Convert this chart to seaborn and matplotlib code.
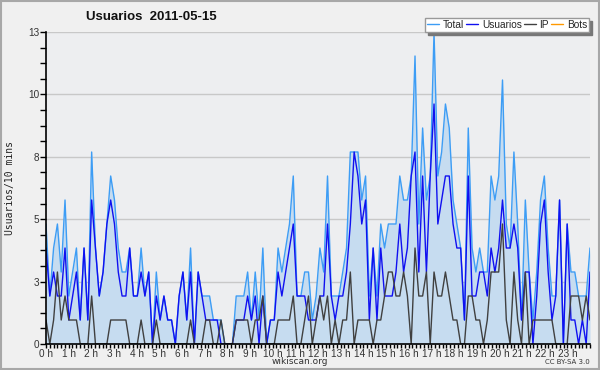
import numpy as np
import matplotlib
matplotlib.use("Agg")
import matplotlib.pyplot as plt
import seaborn as sns
from matplotlib.ticker import MultipleLocator

# Usuarios per 10-minute slot, 2011-05-15 (144 slots)
usuarios = [4, 2, 3, 2, 2, 4, 1, 2, 3, 1, 4, 1, 6, 4, 2, 3, 5, 6, 5, 3,
            2, 2, 4, 2, 2, 3, 2, 3, 0, 2, 1, 2, 1, 1, 0, 2, 3, 1, 3, 0,
            3, 2, 1, 1, 1, 1, 0, 0, 0, 0, 1, 1, 1, 2, 1, 2, 0, 2, 0, 1,
            1, 3, 2, 3, 4, 5, 2, 2, 2, 1, 1, 1, 2, 2, 5, 2, 1, 2, 2, 3,
            5, 8, 7, 5, 6, 1, 4, 1, 4, 2, 2, 2, 3, 5, 3, 4, 7, 8, 3, 7,
            3, 7, 10, 5, 6, 7, 7, 5, 4, 4, 1, 7, 2, 2, 3, 3, 2, 4, 3, 4,
            6, 4, 4, 5, 4, 1, 3, 3, 0, 2, 5, 6, 3, 1, 2, 6, 0, 5, 1, 1,
            0, 1, 0, 3]
ip = [1, 0, 1, 3, 1, 2, 1, 1, 1, 0, 0, 0, 2, 0, 0, 0, 0, 1, 1, 1,
      1, 1, 0, 0, 0, 1, 0, 0, 0, 1, 0, 0, 0, 0, 0, 0, 0, 0, 1, 0,
      0, 0, 1, 1, 0, 0, 1, 0, 0, 0, 1, 1, 1, 1, 0, 1, 1, 2, 0, 0,
      0, 1, 1, 1, 1, 2, 0, 0, 1, 2, 0, 1, 2, 1, 2, 0, 1, 0, 1, 1,
      3, 0, 1, 1, 1, 1, 0, 1, 1, 2, 3, 3, 2, 2, 3, 2, 0, 4, 2, 2,
      3, 0, 3, 2, 2, 3, 2, 1, 1, 0, 0, 2, 2, 1, 1, 0, 1, 3, 3, 3,
      5, 1, 0, 3, 1, 0, 3, 0, 1, 1, 1, 1, 1, 1, 0, 0, 0, 0, 2, 2,
      2, 1, 2, 1]
total = [5, 2, 4, 5, 3, 6, 2, 3, 4, 1, 4, 1, 8, 4, 2, 3, 5, 7, 6, 4,
         3, 3, 4, 2, 2, 4, 2, 3, 0, 3, 1, 2, 1, 1, 0, 2, 3, 1, 4, 0,
         3, 2, 2, 2, 1, 1, 1, 0, 0, 0, 2, 2, 2, 3, 1, 3, 1, 4, 0, 1,
         1, 4, 3, 4, 5, 7, 2, 2, 3, 3, 1, 2, 4, 3, 7, 2, 2, 2, 3, 4,
         8, 8, 8, 6, 7, 2, 4, 2, 5, 4, 5, 5, 5, 7, 6, 6, 7, 12, 5, 9,
         6, 7, 13, 7, 8, 10, 9, 6, 5, 4, 1, 9, 4, 3, 4, 3, 3, 7, 6, 7,
         11, 5, 4, 8, 5, 1, 6, 3, 1, 3, 6, 7, 4, 2, 2, 6, 0, 5, 3, 3,
         2, 2, 2, 4]
bots = [0] * 144

hour_labels = [f"{h} h" for h in range(24)]
y_ticks = [0, 2.6, 5.2, 7.8, 10.4, 13]
y_labels = ["0", "3", "5", "8", "10", "13"]

x = np.arange(len(total)) * 24 / (len(total) - 1)

sns.set_style("white")
plt.rcParams["font.family"] = ["DejaVu Sans"]

fig = plt.figure(figsize=(6, 3.7), dpi=100, facecolor="#f0f0f0")
fig.patches.append(plt.Rectangle((0.0015, 0.0025), 0.997, 0.995, transform=fig.transFigure,
                                 fill=False, edgecolor="#a8a8a8", lw=1.5))
ax = fig.add_axes([46 / 600, 1 - 344 / 370, 544 / 600, 312 / 370])
ax.set_facecolor("#edeef0")

ax.fill_between(x, total, 0, color="#c6dcf0", lw=0, zorder=1)
sns.lineplot(x=x, y=bots, color="#ff9900", lw=1, ax=ax, label="Bots", zorder=0.5)
sns.lineplot(x=x, y=total, color="#3d9df5", lw=1, ax=ax, label="Total", zorder=3)
sns.lineplot(x=x, y=usuarios, color="#1010f0", lw=1, ax=ax, label="Usuarios", zorder=4)
sns.lineplot(x=x, y=ip, color="#404040", lw=1, ax=ax, label="IP", zorder=5)

ax.set_xlim(0, 24)
ax.set_ylim(0, 13)
ax.set_xticks(range(24))
ax.set_xticklabels(hour_labels, family="Liberation Sans")
ax.xaxis.set_minor_locator(MultipleLocator(1 / 6))
ax.set_yticks(y_ticks)
ax.set_yticklabels(y_labels, family="Liberation Sans")
ax.yaxis.set_minor_locator(MultipleLocator(0.65))
ax.tick_params(axis="x", which="major", direction="out", length=3, width=1,
               color="black", labelsize=7.2, labelcolor="#333333", pad=0.5)
ax.tick_params(axis="y", which="major", direction="out", length=4, width=1,
               color="black", labelsize=7.2, labelcolor="#333333", pad=1)
ax.tick_params(axis="x", which="minor", direction="out", length=3, width=1, color="black")
ax.tick_params(axis="y", which="minor", direction="out", length=4, width=1, color="black")
ax.tick_params(axis="both", which="both", bottom=True, left=True)
ax.grid(axis="y", color="#c8c8c8", lw=1)
ax.set_axisbelow(True)
for side in ["top", "right"]:
    ax.spines[side].set_visible(False)
for side in ["left", "bottom"]:
    ax.spines[side].set_color("black")
    ax.spines[side].set_linewidth(1.2)
    ax.spines[side].set_zorder(6)

ax.set_xlabel("")
ax.set_ylabel("Usuarios/10 mins", family="DejaVu Sans Mono", fontsize=7, color="#222222", labelpad=9)

handles, labels = ax.get_legend_handles_labels()
order = [labels.index(n) for n in ["Total", "Usuarios", "IP", "Bots"]]
leg = ax.legend([handles[i] for i in order], [labels[i] for i in order], ncol=4,
                loc="lower right", bbox_to_anchor=(0.998, 1.0),
                prop={"family": "Liberation Sans", "size": 7.3},
                frameon=True, fancybox=False, shadow={"color": "#777777", "alpha": 1},
                handlelength=1.2, handletextpad=0.35, columnspacing=0.2,
                borderpad=0.2, borderaxespad=0)
leg.get_frame().set_edgecolor("#999999")
leg.get_frame().set_facecolor("white")
leg.get_frame().set_linewidth(1)

fig.text(151 / 600, 1 - 17 / 370, "Usuarios  2011-05-15", ha="center", va="center",
         fontsize=9.5, fontweight="bold", family="Liberation Sans", color="#111111")
fig.text(300 / 600, 1 - 362 / 370, "wikiscan.org", ha="center", va="center",
         fontsize=6.5, color="#333333")
fig.text(590 / 600, 1 - 362 / 370, "CC BY-SA 3.0", ha="right", va="center",
         fontsize=5, color="#333333")

fig.savefig("out.png", dpi=100, facecolor=fig.get_facecolor())
